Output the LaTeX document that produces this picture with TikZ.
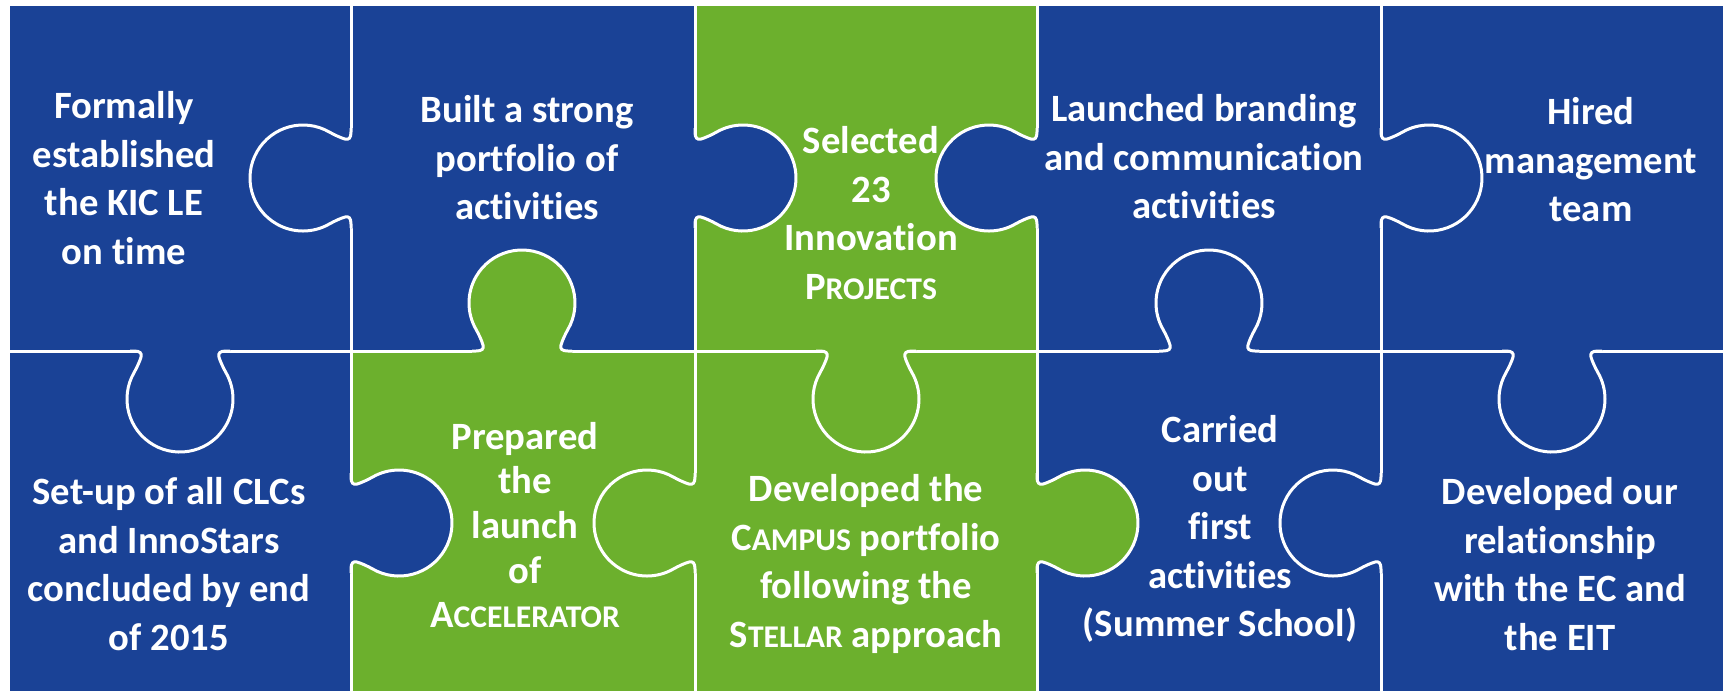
\documentclass[tikz,border=0pt]{standalone}
\usepackage{fontspec}
\setmainfont{Carlito}[Ligatures=NoCommon]
\definecolor{kicblue}{RGB}{26,66,150}
\definecolor{kicgreen}{RGB}{108,176,45}
\newcommand{\fakesc}[2]{#1{\fontsize{9}{13.8}\selectfont #2}}
\newcommand{\tabline}{(-50,0) -- (-46,0) .. controls (-40,0) and (-38,2) .. (-39,6) .. controls (-40,10) and (-43.7,17.7) .. (-45.9,21.5) arc[start angle=210, end angle=-30, radius=53] .. controls (43.7,17.7) and (40,10) .. (39,6) .. controls (38,2) and (40,0) .. (46,0) -- (50,0)}
\newcommand{\puzzletab}[4]{\begin{scope}[shift={(#1,#2)},rotate=#3]
\fill[#4] (-50,-6) -- \tabline -- (50,-6) -- cycle;
\draw[seam] \tabline;
\end{scope}}
\begin{document}
\begin{tikzpicture}[x=0.1mm,y=-0.1mm,seam/.style={draw=white,line width=0.3mm},piecetext/.style={text=white,font=\bfseries\fontsize{11}{13.8}\selectfont,align=center,inner sep=0pt}]
\useasboundingbox (0,0) rectangle (1729,691);
\fill[kicblue] (10,6) rectangle (1723,691);
\fill[kicgreen] (695,6) rectangle (1037,351);
\fill[kicgreen] (351,351) rectangle (1037,691);
\draw[seam] (351,6) -- (351,691);
\draw[seam] (695,6) -- (695,691);
\draw[seam] (1037,6) -- (1037,691);
\draw[seam] (1381,6) -- (1381,691);
\draw[seam] (10,351) -- (1723,351);
\puzzletab{351}{178}{-90}{kicblue}
\puzzletab{695}{178}{90}{kicblue}
\puzzletab{1037}{178}{-90}{kicblue}
\puzzletab{1381}{178}{90}{kicblue}
\puzzletab{180}{351}{0}{kicblue}
\puzzletab{522}{351}{180}{kicgreen}
\puzzletab{866}{351}{0}{kicgreen}
\puzzletab{1209}{351}{180}{kicblue}
\puzzletab{1552}{351}{0}{kicblue}
\puzzletab{351}{523}{90}{kicblue}
\puzzletab{695}{523}{-90}{kicgreen}
\puzzletab{1037}{523}{90}{kicgreen}
\puzzletab{1381}{523}{-90}{kicblue}
\node[piecetext] (t11) at (124,178) {Formally\\established\\the KIC LE\\on time};
\node[piecetext] (t21) at (527,158) {Built a strong\\portfolio of\\activities};
\node[piecetext] (t31) at (871,213) {Selected\\23\\Innovation\\\fakesc{P}{ROJECTS}};
\node[piecetext] (t41) at (1204,157) {Launched branding\\and communication\\activities};
\node[piecetext] (t51) at (1591,160) {Hired\\management\\team};
\node[piecetext] (t12) at (169,564) {Set-up of all CLCs\\and InnoStars\\concluded by end\\of 2015};
\node[piecetext,font=\bfseries\fontsize{11}{12.7}\selectfont] (t22) at (525,525) {Prepared\\the\\launch\\of\\\fakesc{A}{CCELERATOR}};
\node[piecetext] (t32) at (866,564) {Developed the\\\fakesc{C}{AMPUS} portfolio\\following the\\\fakesc{S}{TELLAR} approach};
\node[piecetext] (t42) at (1220,529) {Carried\\out\\first\\activities\\(Summer School)};
\node[piecetext] (t52) at (1560,564) {Developed our\\relationship\\with the EC and\\the EIT};
\end{tikzpicture}
\end{document}
